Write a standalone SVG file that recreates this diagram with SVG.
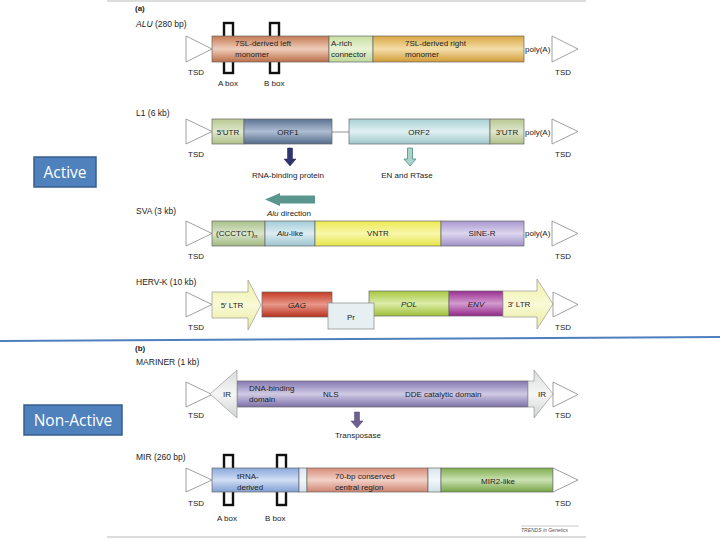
<svg xmlns="http://www.w3.org/2000/svg" width="720" height="540" viewBox="0 0 720 540">
<style>
text{font-family:"Liberation Sans",Arial,sans-serif;font-size:8px;fill:#222}
.ttl{font-size:8.5px}
.seg{stroke:#666;stroke-width:0.7}
.tsd{fill:#fff;stroke:#888;stroke-width:0.8}
.box{fill:none;stroke:#111;stroke-width:2.4}
.lab{font-size:15.5px;fill:#fff;font-family:"Open Sans","Liberation Sans",Arial,sans-serif}
.act{fill:#4f81bd;stroke:#385d8a;stroke-width:1.5}
.m{text-anchor:middle}
</style>
<defs>
<linearGradient id="gBrown" x1="0" y1="0" x2="0" y2="1"><stop offset="0" stop-color="#c47a52"/><stop offset="0.5" stop-color="#efcdbb"/><stop offset="1" stop-color="#bb6e48"/></linearGradient>
<linearGradient id="gGold" x1="0" y1="0" x2="0" y2="1"><stop offset="0" stop-color="#d9a640"/><stop offset="0.5" stop-color="#f4deaa"/><stop offset="1" stop-color="#d29c36"/></linearGradient>
<linearGradient id="gLGreen" x1="0" y1="0" x2="0" y2="1"><stop offset="0" stop-color="#c7dea0"/><stop offset="0.5" stop-color="#e9f3d6"/><stop offset="1" stop-color="#c0d898"/></linearGradient>
<linearGradient id="gUTR" x1="0" y1="0" x2="0" y2="1"><stop offset="0" stop-color="#b8c890"/><stop offset="0.5" stop-color="#dfe7cc"/><stop offset="1" stop-color="#b0c088"/></linearGradient>
<linearGradient id="gORF1" x1="0" y1="0" x2="0" y2="1"><stop offset="0" stop-color="#5c7394"/><stop offset="0.5" stop-color="#aebdd2"/><stop offset="1" stop-color="#546a8a"/></linearGradient>
<linearGradient id="gORF2" x1="0" y1="0" x2="0" y2="1"><stop offset="0" stop-color="#a8d0d4"/><stop offset="0.5" stop-color="#e0f0f2"/><stop offset="1" stop-color="#a0c8cc"/></linearGradient>
<linearGradient id="gCCC" x1="0" y1="0" x2="0" y2="1"><stop offset="0" stop-color="#a8c088"/><stop offset="0.5" stop-color="#dae6cc"/><stop offset="1" stop-color="#a0b880"/></linearGradient>
<linearGradient id="gAluL" x1="0" y1="0" x2="0" y2="1"><stop offset="0" stop-color="#a4ccd8"/><stop offset="0.5" stop-color="#dcedf2"/><stop offset="1" stop-color="#9cc4d0"/></linearGradient>
<linearGradient id="gVNTR" x1="0" y1="0" x2="0" y2="1"><stop offset="0" stop-color="#ecea50"/><stop offset="0.5" stop-color="#f8f7aa"/><stop offset="1" stop-color="#e6e44a"/></linearGradient>
<linearGradient id="gSINE" x1="0" y1="0" x2="0" y2="1"><stop offset="0" stop-color="#a898d0"/><stop offset="0.5" stop-color="#ddd6ee"/><stop offset="1" stop-color="#a090c8"/></linearGradient>
<linearGradient id="gLTR" x1="0" y1="0" x2="0" y2="1"><stop offset="0" stop-color="#eef0a0"/><stop offset="0.5" stop-color="#f9fad8"/><stop offset="1" stop-color="#e8ea98"/></linearGradient>
<linearGradient id="gGAG" x1="0" y1="0" x2="0" y2="1"><stop offset="0" stop-color="#c43a24"/><stop offset="0.5" stop-color="#e8988a"/><stop offset="1" stop-color="#b8301c"/></linearGradient>
<linearGradient id="gPOL" x1="0" y1="0" x2="0" y2="1"><stop offset="0" stop-color="#a8c840"/><stop offset="0.5" stop-color="#dcec a8"/><stop offset="1" stop-color="#a0c038"/></linearGradient>
<linearGradient id="gPOL2" x1="0" y1="0" x2="0" y2="1"><stop offset="0" stop-color="#a8c840"/><stop offset="0.5" stop-color="#dceca8"/><stop offset="1" stop-color="#a0c038"/></linearGradient>
<linearGradient id="gENV" x1="0" y1="0" x2="0" y2="1"><stop offset="0" stop-color="#983090"/><stop offset="0.5" stop-color="#d49ad0"/><stop offset="1" stop-color="#902888"/></linearGradient>
<linearGradient id="gMar" x1="0" y1="0" x2="0" y2="1"><stop offset="0" stop-color="#8478b0"/><stop offset="0.5" stop-color="#d0cae4"/><stop offset="1" stop-color="#7c70a8"/></linearGradient>
<linearGradient id="gIR" x1="0" y1="0" x2="0" y2="1"><stop offset="0" stop-color="#d8dcdc"/><stop offset="0.5" stop-color="#f6f6f6"/><stop offset="1" stop-color="#d0d4d4"/></linearGradient>
<linearGradient id="gTRNA" x1="0" y1="0" x2="0" y2="1"><stop offset="0" stop-color="#88a8dc"/><stop offset="0.5" stop-color="#d2def4"/><stop offset="1" stop-color="#80a0d4"/></linearGradient>
<linearGradient id="gPink" x1="0" y1="0" x2="0" y2="1"><stop offset="0" stop-color="#d88c78"/><stop offset="0.5" stop-color="#f2d2c8"/><stop offset="1" stop-color="#d08470"/></linearGradient>
<linearGradient id="gMIR2" x1="0" y1="0" x2="0" y2="1"><stop offset="0" stop-color="#7eac4c"/><stop offset="0.5" stop-color="#cce2b4"/><stop offset="1" stop-color="#76a444"/></linearGradient>
<linearGradient id="gGap" x1="0" y1="0" x2="0" y2="1"><stop offset="0" stop-color="#d8e6ee"/><stop offset="0.5" stop-color="#f2f8fa"/><stop offset="1" stop-color="#d0e0ea"/></linearGradient>
</defs>
<rect width="720" height="540" fill="#fff"/>
<line x1="107" y1="1" x2="586" y2="1" stroke="#bbb" stroke-width="1"/>
<line x1="107" y1="537" x2="586" y2="537" stroke="#bbb" stroke-width="1.2"/>
<text x="135" y="11" style="font-weight:bold">(a)</text>

<g id="alu">
<text x="136" y="27" class="ttl"><tspan font-style="italic">ALU</tspan> (280 bp)</text>
<rect x="224" y="23" width="9" height="50" class="box"/>
<rect x="270" y="23" width="9" height="50" class="box"/>
<polygon points="186,36 212,49 186,62" class="tsd"/>
<rect x="212" y="36" width="117" height="26" fill="url(#gBrown)" class="seg"/>
<rect x="329" y="36" width="44" height="26" fill="url(#gLGreen)" class="seg"/>
<rect x="373" y="36" width="151" height="26" fill="url(#gGold)" class="seg"/>
<polygon points="552,36 578,49 552,62" class="tsd"/>
<text x="235" y="46">7SL-derived left</text>
<text x="235" y="57">monomer</text>
<text x="331" y="46">A-rich</text>
<text x="331" y="57">connector</text>
<text x="405" y="46">7SL-derived right</text>
<text x="405" y="57">monomer</text>
<text x="525" y="52">poly(A)</text>
<text x="188" y="75">TSD</text>
<text x="555" y="75">TSD</text>
<text x="218" y="86">A box</text>
<text x="264" y="86">B box</text>
</g>

<g id="l1">
<text x="136" y="116" class="ttl">L1 (6 kb)</text>
<polygon points="186,119 212,131.5 186,144" class="tsd"/>
<line x1="332" y1="132" x2="349" y2="132" stroke="#777" stroke-width="0.8"/>
<rect x="212" y="119" width="32" height="25" fill="url(#gUTR)" class="seg"/>
<rect x="244" y="119" width="88" height="25" fill="url(#gORF1)" class="seg"/>
<rect x="349" y="119" width="141" height="25" fill="url(#gORF2)" class="seg"/>
<rect x="490" y="119" width="34" height="25" fill="url(#gUTR)" class="seg"/>
<polygon points="552,119 578,131.5 552,144" class="tsd"/>
<text x="228" y="135" class="m">5′UTR</text>
<text x="288" y="135" class="m">ORF1</text>
<text x="419" y="135" class="m">ORF2</text>
<text x="507" y="135" class="m">3′UTR</text>
<text x="525" y="135">poly(A)</text>
<text x="188" y="157">TSD</text>
<text x="555" y="157">TSD</text>
<polygon points="287.5,148 292.5,148 292.5,159 296,159 290,166 284,159 287.5,159" fill="#2e3470" stroke="#1e2250" stroke-width="0.5"/>
<polygon points="407.5,148 412.5,148 412.5,159 416,159 410,166 404,159 407.5,159" fill="#a8d4cc" stroke="#4e8c84" stroke-width="0.8"/>
<text x="288" y="178" class="m">RNA-binding protein</text>
<text x="407" y="178" class="m">EN and RTase</text>
</g>

<g id="sva">
<polygon points="265,199.5 280,193 280,195.5 315,195.5 315,203.5 280,203.5 280,206" fill="#5a968e"/>
<text x="289" y="216" class="m"><tspan font-style="italic">Alu</tspan> direction</text>
<text x="136" y="214" class="ttl">SVA (3 kb)</text>
<polygon points="186,221 212,233.5 186,246" class="tsd"/>
<rect x="212" y="221" width="53" height="25" fill="url(#gCCC)" class="seg"/>
<rect x="265" y="221" width="50" height="25" fill="url(#gAluL)" class="seg"/>
<rect x="315" y="221" width="126" height="25" fill="url(#gVNTR)" class="seg"/>
<rect x="441" y="221" width="83" height="25" fill="url(#gSINE)" class="seg"/>
<polygon points="552,221 578,233.5 552,246" class="tsd"/>
<text x="216" y="236">(CCCTCT)<tspan font-size="5.5" dy="2">n</tspan></text>
<text x="290" y="236" class="m"><tspan font-style="italic">Alu</tspan>-like</text>
<text x="378" y="236" class="m">VNTR</text>
<text x="482" y="236" class="m">SINE-R</text>
<text x="525" y="236">poly(A)</text>
<text x="188" y="259">TSD</text>
<text x="555" y="259">TSD</text>
</g>

<g id="hervk">
<text x="136" y="285" class="ttl">HERV-K (10 kb)</text>
<polygon points="186,292 212,304.5 186,317" class="tsd"/>
<polygon points="212,292 248,292 248,280 261,305 248,330 248,318 212,318" fill="url(#gLTR)" stroke="#999" stroke-width="0.7"/>
<rect x="262" y="292" width="70" height="25" fill="url(#gGAG)" class="seg"/>
<rect x="369" y="291" width="80" height="25" fill="url(#gPOL2)" class="seg"/>
<rect x="449" y="291" width="54" height="25" fill="url(#gENV)" class="seg"/>
<rect x="328" y="303" width="46" height="26" fill="#e6f0f2" stroke="#888" stroke-width="0.7"/>
<polygon points="503,291 537,291 537,279 553,304 537,329 537,317 503,317" fill="url(#gLTR)" stroke="#999" stroke-width="0.7"/>
<polygon points="553,292 578,304.5 553,317" class="tsd"/>
<text x="232" y="308" class="m">5′ LTR</text>
<text x="297" y="308" class="m" font-style="italic">GAG</text>
<text x="351" y="320" class="m">Pr</text>
<text x="409" y="307" class="m" font-style="italic">POL</text>
<text x="476" y="307" class="m" font-style="italic">ENV</text>
<text x="519" y="307" class="m">3′ LTR</text>
<text x="188" y="330">TSD</text>
<text x="555" y="330">TSD</text>
</g>

<line x1="0" y1="341" x2="720" y2="337" stroke="#4f7fbf" stroke-width="2"/>

<text x="135" y="351" style="font-weight:bold">(b)</text>

<g id="mariner">
<text x="136" y="365" class="ttl">MARINER (1 kb)</text>
<polygon points="186,382 212,394.5 186,407" class="tsd"/>
<rect x="237" y="381" width="291" height="26" fill="url(#gMar)" class="seg"/>
<polygon points="237,370 210,394 237,418" fill="url(#gIR)" stroke="#999" stroke-width="0.7"/>
<polygon points="528,381 534,381 534,370 553,394 534,418 534,407 528,407" fill="url(#gIR)" stroke="#999" stroke-width="0.7"/>
<polygon points="553,382 578,394.5 553,407" class="tsd"/>
<text x="227" y="397" class="m">IR</text>
<text x="249" y="391">DNA-binding</text>
<text x="249" y="402">domain</text>
<text x="323" y="397">NLS</text>
<text x="405" y="397">DDE catalytic domain</text>
<text x="538" y="397">IR</text>
<text x="188" y="418">TSD</text>
<text x="555" y="418">TSD</text>
<polygon points="354.5,412 359.5,412 359.5,421 363,421 357,428 351,421 354.5,421" fill="#6e6090" stroke="#4e4070" stroke-width="0.5"/>
<text x="358" y="438" class="m">Transposase</text>
</g>

<g id="mir">
<text x="136" y="460" class="ttl">MIR (260 bp)</text>
<rect x="224" y="455" width="9" height="50" class="box"/>
<rect x="277" y="455" width="9" height="50" class="box"/>
<polygon points="186,468 212,480 186,492" class="tsd"/>
<rect x="212" y="468" width="87" height="24" fill="url(#gTRNA)" class="seg"/>
<rect x="299" y="468" width="8" height="24" fill="url(#gGap)" class="seg"/>
<rect x="307" y="468" width="121" height="24" fill="url(#gPink)" class="seg"/>
<rect x="428" y="468" width="13" height="24" fill="url(#gGap)" class="seg"/>
<rect x="441" y="468" width="112" height="24" fill="url(#gMIR2)" class="seg"/>
<polygon points="553,468 578,480 553,492" class="tsd"/>
<text x="237" y="479">tRNA-</text>
<text x="237" y="490">derived</text>
<text x="335" y="479">70-bp conserved</text>
<text x="335" y="490">central region</text>
<text x="498" y="484" class="m">MIR2-like</text>
<text x="188" y="506">TSD</text>
<text x="555" y="506">TSD</text>
<text x="217" y="521">A box</text>
<text x="265" y="521">B box</text>
<line x1="521" y1="526" x2="579" y2="526" stroke="#aaa" stroke-width="0.6"/>
<text x="521" y="532" style="font-size:5px;font-style:italic;fill:#555">TRENDS in Genetics</text>
</g>

<g id="active">
<rect x="34" y="157" width="62" height="30" class="act"/>
<text x="65" y="178" class="lab m">Active</text>
</g>
<g id="nonactive">
<rect x="24" y="405" width="98" height="30" class="act"/>
<text x="73" y="426" class="lab m">Non-Active</text>
</g>
</svg>
